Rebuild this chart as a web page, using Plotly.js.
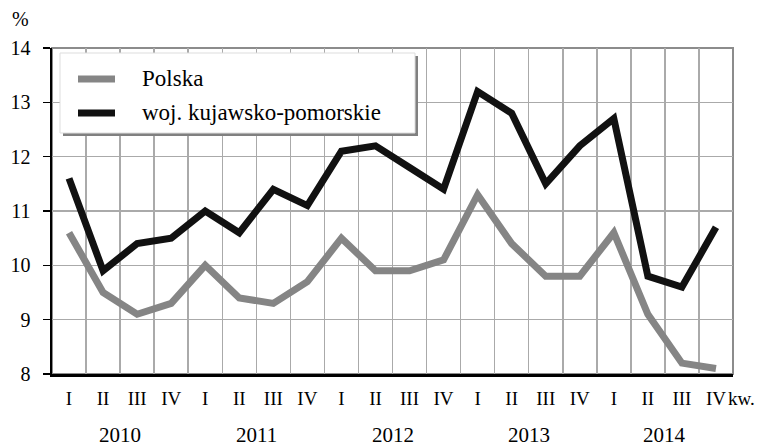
<!DOCTYPE html>
<html>
<head>
<meta charset="utf-8">
<script src="https://cdn.plot.ly/plotly-3.0.1.min.js"></script>
<style>
  body { margin: 0; background: #fff; }
  #myDiv { width: 762px; height: 447px; }
</style>
</head>
<body>
<div id="myDiv"></div>
<script>
var quarters = ['I', 'II', 'III', 'IV', 'I', 'II', 'III', 'IV', 'I', 'II', 'III', 'IV', 'I', 'II', 'III', 'IV', 'I', 'II', 'III', 'IV'];
var years = ['2010', '2011', '2012', '2013', '2014'];
var polska = [10.6, 9.5, 9.1, 9.3, 10.0, 9.4, 9.3, 9.7, 10.5, 9.9, 9.9, 10.1, 11.3, 10.4, 9.8, 9.8, 10.6, 9.1, 8.2, 8.1];
var kujawsko = [11.6, 9.9, 10.4, 10.5, 11.0, 10.6, 11.4, 11.1, 12.1, 12.2, 11.8, 11.4, 13.2, 12.8, 11.5, 12.2, 12.7, 9.8, 9.6, 10.7];
var names = ['Polska', 'woj. kujawsko-pomorskie'];

var W = 762, H = 447;
var m = {l: 52, r: 29, t: 48, b: 73};
// pixel -> paper helpers
function px(x) { return (x - m.l) / (W - m.l - m.r); }
function py(y) { return 1 - (y - m.t) / (H - m.t - m.b); }

var idx = quarters.map(function (q, i) { return i; });
var serif = 'Liberation Serif';

var data = [
  {x: idx, y: polska, name: names[0], type: 'scatter', mode: 'lines',
   line: {color: '#858585', width: 7}},
  {x: idx, y: kujawsko, name: names[1], type: 'scatter', mode: 'lines',
   line: {color: '#111111', width: 7}}
];

function note(x, xref, y, text, size, xanchor) {
  return {x: x, xref: xref, y: y, yref: 'paper', text: text, showarrow: false,
          xanchor: xanchor || 'center', yanchor: 'middle', borderpad: 0,
          font: {family: serif, size: size, color: '#000'}};
}

var annotations = years.map(function (yr, i) {
  return note(i * 4 + 1.5, 'x', py(435.5), yr, 21);
});
annotations.push(note(px(727), 'paper', py(398), 'kw.', 19, 'left'));
annotations.push(note(px(20), 'paper', py(19), '%', 20));
annotations.push(note(px(141), 'paper', py(78), names[0], 23, 'left'));
annotations.push(note(px(141), 'paper', py(112), names[1], 23, 'left'));

var shapes = [
  // gray frame top/right
  {type: 'rect', xref: 'paper', yref: 'paper', x0: 0, x1: 1, y0: 0, y1: 1,
   line: {color: '#8c8c8c', width: 2}, layer: 'below'},
  // legend shadow and box
  {type: 'rect', xref: 'paper', yref: 'paper', x0: px(63), x1: px(418), y0: py(136), y1: py(56),
   fillcolor: '#808080', line: {width: 0}, layer: 'above'},
  {type: 'rect', xref: 'paper', yref: 'paper', x0: px(60), x1: px(415), y0: py(133), y1: py(53),
   fillcolor: '#ffffff', line: {color: '#dddddd', width: 1}, layer: 'above'},
  {type: 'line', xref: 'paper', yref: 'paper', x0: px(78), x1: px(115), y0: py(79), y1: py(79),
   line: {color: '#858585', width: 7}, layer: 'above'},
  {type: 'line', xref: 'paper', yref: 'paper', x0: px(78), x1: px(115), y0: py(113), y1: py(113),
   line: {color: '#111111', width: 7}, layer: 'above'}
];

var layout = {
  width: W, height: H,
  margin: m,
  showlegend: false,
  paper_bgcolor: '#fff',
  plot_bgcolor: '#fff',
  font: {family: serif, color: '#000'},
  xaxis: {
    range: [-0.5, 19.5],
    tickvals: idx,
    ticktext: quarters,
    showgrid: false,
    zeroline: false,
    showline: true,
    linecolor: '#000',
    linewidth: 2.5,
    ticks: '',
    ticklabelstandoff: 6,
    tickfont: {family: serif, size: 19, color: '#000'},
    minor: {tick0: -0.5, dtick: 1, showgrid: true, gridcolor: '#aaaaaa', gridwidth: 1.5, ticks: ''},
    fixedrange: true
  },
  yaxis: {
    range: [8, 14],
    dtick: 1,
    showgrid: true,
    gridcolor: '#aaaaaa',
    gridwidth: 1.5,
    zeroline: false,
    showline: true,
    linecolor: '#000',
    linewidth: 2.5,
    ticks: 'outside',
    ticklen: 7,
    tickwidth: 1.5,
    tickcolor: '#000',
    ticklabelstandoff: 8,
    tickfont: {family: serif, size: 20, color: '#000'},
    fixedrange: true
  },
  annotations: annotations,
  shapes: shapes
};

Plotly.newPlot('myDiv', data, layout, {displayModeBar: false, staticPlot: true});
</script>
</body>
</html>
